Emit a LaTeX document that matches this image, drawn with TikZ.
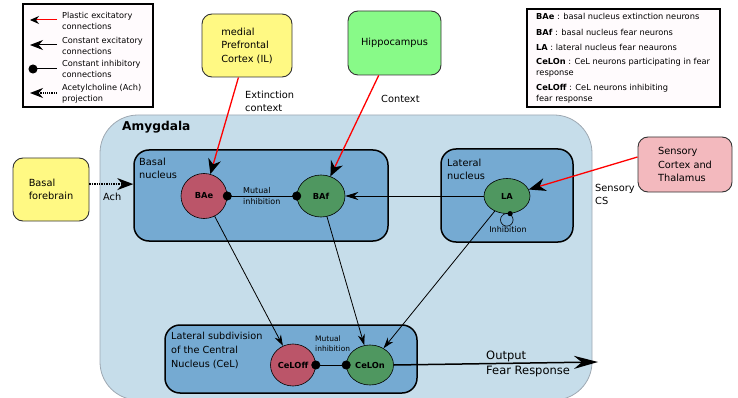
\documentclass[tikz,border=0pt]{standalone}
\usepackage{fontspec}
\setmainfont{DejaVu Sans}
\usetikzlibrary{arrows.meta,shapes.geometric,calc}
\definecolor{amygfill}{HTML}{C6DDEA}
\definecolor{amygline}{HTML}{9EA8B2}
\definecolor{nucfill}{HTML}{75AAD2}
\definecolor{redneuron}{HTML}{BB5569}
\definecolor{greenneuron}{HTML}{4F9760}
\definecolor{yellowbox}{HTML}{FFF983}
\definecolor{hippobox}{HTML}{88FA88}
\definecolor{pinkbox}{HTML}{F3B9BE}
\definecolor{legendfill}{HTML}{FFFBFD}
\tikzset{
  srcbox/.style={draw=black!80, line width=0.9pt, rounded corners=10pt, align=left,
    font=\fontsize{9.8}{13.5}\selectfont},
  nucbox/.style={draw=black, fill=nucfill, line width=1.5pt, rounded corners=15pt},
  neuron/.style={ellipse, draw=black, line width=0.6pt, inner sep=0pt,
    font=\bfseries\fontsize{8.3}{10}\selectfont},
  lbl/.style={inner sep=0pt, anchor=west, align=left, font=\fontsize{9.8}{13}\selectfont},
  legbox/.style={draw=black, fill=legendfill, line width=1.4pt},
  legtxt/.style={inner sep=0pt, anchor=west, align=left, font=\fontsize{8.2}{10.8}\selectfont},
  plastic/.style={draw=red, line width=1.3pt},
  excit/.style={draw=black, line width=0.8pt},
  inhib/.style={draw=black, line width=0.8pt, {Circle[length=9pt]}-{Circle[length=9pt]},
    shorten <=-4.5pt, shorten >=-4.5pt},
}
\begin{document}
\begin{tikzpicture}[x=1pt,y=-1pt]
\useasboundingbox (0,0) rectangle (738,398);
% Amygdala region
\begin{scope}
\clip (0,0) rectangle (738,398);
\node[draw=amygline, fill=amygfill, line width=0.8pt, rounded corners=38pt,
  minimum width=492pt, minimum height=285pt] (amyg) at (346,257.5) {};
\end{scope}
\node[inner sep=0pt, anchor=west, font=\bfseries\fontsize{12.2}{14}\selectfont] (amyglbl) at (122,127) {Amygdala};

% nuclei boxes
\node[nucbox, minimum width=254pt, minimum height=91pt] (basal) at (261,195.5) {};
\node[nucbox, minimum width=132pt, minimum height=93pt] (lateral) at (507,195.5) {};
\node[nucbox, minimum width=252pt, minimum height=68pt] (cel) at (291,359) {};
\node[lbl] (basallbl) at (139,168.5) {Basal\\nucleus};
\node[lbl] (laterallbl) at (447,169) {Lateral\\nucleus};
\node[lbl, font=\fontsize{9.7}{13.7}\selectfont] (cellbl) at (171,350.5) {Lateral subdivision\\of the Central\\Nucleus (CeL)};
\node[lbl, font=\fontsize{8}{11}\selectfont] (mi1) at (243,196.5) {Mutual\\inhibition};
\node[lbl, font=\fontsize{7.5}{10.5}\selectfont] (mi2) at (315,343.5) {Mutual\\inhibition};

% neurons
\node[neuron, fill=redneuron, minimum width=46pt, minimum height=45pt] (bae) at (204,196) {BAe};
\node[neuron, fill=greenneuron, minimum width=48pt, minimum height=42pt] (baf) at (321,196) {BAf};
\node[neuron, fill=greenneuron, minimum width=46pt, minimum height=35pt] (la) at (507,196) {LA};
\node[neuron, fill=redneuron, minimum width=45pt, minimum height=42pt] (celoff) at (293,365) {CeLOff};
\node[neuron, fill=greenneuron, minimum width=47pt, minimum height=40pt] (celon) at (370,365) {CeLOn};

% source boxes
\node[srcbox, fill=yellowbox, minimum width=90pt, minimum height=63pt] (mpfc) at (247,45.5) {medial\\Prefrontal\\Cortex (IL)};
\node[srcbox, fill=hippobox, minimum width=93pt, minimum height=64pt] (hippo) at (394.5,43) {Hippocampus};
\node[srcbox, fill=pinkbox, minimum width=94pt, minimum height=55pt] (sens) at (685,164.5) {Sensory\\Cortex and\\Thalamus};
\node[srcbox, fill=yellowbox, minimum width=76pt, minimum height=63pt] (bf) at (51,189.5) {Basal\\forebrain};

% plastic excitatory inputs
\draw[plastic, -{Stealth[length=15pt,width=13pt,color=black]}] (mpfc.-105) -- (bae);
\draw[plastic, -{Stealth[length=15pt,width=13pt,color=black]}] (hippo.-116) -- (baf);
\draw[plastic, -{Stealth[length=17pt,width=13pt,color=black]}] (sens.171) -- (la);
\node[lbl] (extlbl) at (245,101.5) {Extinction\\context};
\node[lbl] (ctxlbl) at (381,99) {Context};
\node[lbl] (cslbl) at (595,194.5) {Sensory\\CS};

% acetylcholine
\draw[line width=1.4pt, densely dotted, -{Stealth[length=16pt,width=12pt]}] (bf.8) -- (bf.8 -| basal.west);
\node[lbl] (achlbl) at (103,197) {Ach};

% internal connections
\draw[excit, -{Stealth[length=13pt,width=8pt]}] (la) -- (baf);
\draw[inhib] (bae) -- (baf);
\draw[excit, -{Stealth[length=11pt,width=7pt]}] (bae) -- (celoff);
\draw[excit, -{Stealth[length=11pt,width=7pt]}] (baf) -- (celon);
\draw[excit, -{Stealth[length=11pt,width=7pt]}] (la) -- (celon);
\draw[inhib] (celoff) -- (celon);

% LA self inhibition
\fill (la.-80) circle (2.6pt);
\draw[line width=0.6pt] ($(la.-80)+(-3.3,6.2)$) circle (6.3pt);
\node[inner sep=0pt, font=\fontsize{8}{9}\selectfont] (inhlbl) at (508,230) {Inhibition};

% output
\coordinate (outend) at (598,362);
\draw[line width=1.5pt, -{Stealth[length=24pt,width=13pt]}] (celon.east) -- (outend);
\node[lbl, font=\fontsize{11.5}{15}\selectfont] (outlbl) at (486,363.5) {Output\\Fear Response};

% legend 1
\node[legbox, minimum width=130pt, minimum height=103pt] (leg1) at (88,55.5) {};
\coordinate (l1a) at (30,20); \coordinate (l1b) at (57,20);
\draw[draw=red, line width=1pt, -{Stealth[length=9pt,width=8pt,color=black]}] (l1b) -- (l1a);
\node[legtxt] (t1) at (62,20.8) {Plastic excitatory\\connections};
\coordinate (l2a) at (30,45); \coordinate (l2b) at (57,45);
\draw[line width=1pt, -{Stealth[length=13pt,width=10pt]}] (l2b) -- (l2a);
\node[legtxt] (t2) at (62,46.2) {Constant excitatory\\connections};
\coordinate (l3a) at (28.5,69); \coordinate (l3b) at (57,69);
\draw[line width=1pt, {Circle[length=9pt]}-] (l3a) -- (l3b);
\node[legtxt] (t3) at (62,68.9) {Constant inhibitory\\connections};
\coordinate (l4a) at (30,93); \coordinate (l4b) at (57,93);
\draw[line width=1.2pt, densely dotted, -{Stealth[length=13pt,width=10pt]}] (l4b) -- (l4a);
\node[legtxt] (t4) at (62,93.5) {Acetylcholine (Ach)\\projection};

% legend 2
\node[legbox, minimum width=193pt, minimum height=98pt] (leg2) at (623.5,58) {};
\node[legtxt, font=\fontsize{8.25}{10.8}\selectfont] (d1) at (536,16) {\textbf{BAe} : basal nucleus extinction neurons};
\node[legtxt, font=\fontsize{8.25}{10.8}\selectfont] (d2) at (536,32) {\textbf{BAf} : basal nucleus fear neurons};
\node[legtxt, font=\fontsize{8.25}{10.8}\selectfont] (d3) at (536,47) {\textbf{LA} : lateral nucleus fear neaurons};
\node[legtxt, font=\fontsize{8.25}{10.8}\selectfont] (d4) at (536,67.5) {\textbf{CeLOn} : CeL neurons participating in fear\\response};
\node[legtxt, font=\fontsize{8.25}{10.8}\selectfont] (d5) at (536,93.5) {\textbf{CeLOff} : CeL neurons inhibiting\\fear response};
\end{tikzpicture}
\end{document}
